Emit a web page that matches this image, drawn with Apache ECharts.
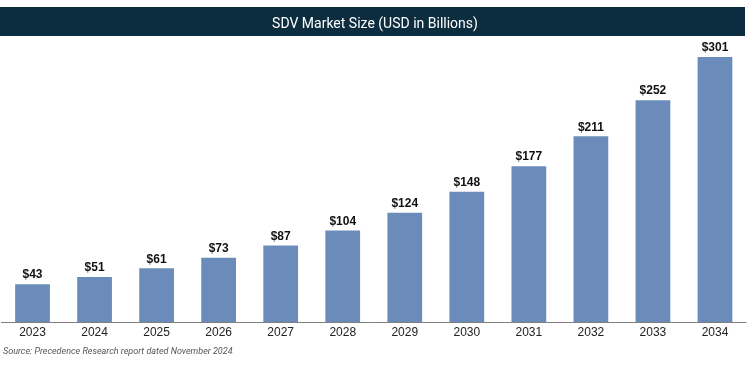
<!DOCTYPE html>
<html><head><meta charset="utf-8">
<script src="https://cdn.jsdelivr.net/npm/echarts@6/dist/echarts.min.js"></script>
<style>html,body{margin:0;padding:0;background:#fff}#c{width:750px;height:369px}</style>
</head><body><div id="c"></div>
<script>
const categories = ['2023','2024','2025','2026','2027','2028','2029','2030','2031','2032','2033','2034'];
const values = [43,51,61,73,87,104,124,148,177,211,252,301];
const chart = echarts.init(document.getElementById('c'));
chart.setOption({
  animation:false,
  graphic:[
    {type:'rect', shape:{x:0,y:7,width:745,height:29}, style:{fill:'#0c2d3f'}, z:0},
    {type:'text', left:3, top:347, style:{text:'Source: Precedence Research report dated November 2024', fill:'#555', font:'italic 9px Roboto'}}
  ],
  title:{text:'SDV Market Size (USD in Billions)', left:'center', top:12, textStyle:{color:'#fff', fontSize:14, fontWeight:'normal', fontFamily:'Roboto'}},
  grid:{left:1.5, right:4, top:57, bottom:47},
  xAxis:{type:'category', data:categories, axisTick:{show:false},
    axisLine:{lineStyle:{color:'#7f7f7f', width:1}},
    axisLabel:{color:'#222', fontSize:12, fontFamily:'Liberation Sans', margin:5}},
  yAxis:{type:'value', min:0, max:301, show:false, splitLine:{show:false}},
  series:[{type:'bar', data:values, barWidth:'56%', itemStyle:{color:'#6b8cba'},
    label:{show:true, position:'top', formatter:p=>'$'+p.value, color:'#111', fontWeight:'bold', fontSize:12, fontFamily:'Liberation Sans', distance:3}}]
});
</script></body></html>
